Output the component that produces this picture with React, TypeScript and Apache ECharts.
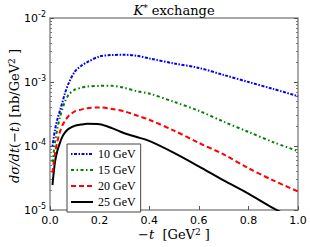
import React, { useEffect, useRef } from "react";
import * as echarts from "echarts";

const tValues = [0.01, 0.02, 0.03, 0.04, 0.05, 0.06, 0.075, 0.1, 0.125, 0.15, 0.2, 0.25, 0.3, 0.35, 0.4, 0.5, 0.6, 0.7, 0.8, 0.9, 1.0];
const gev10 = [1.0e-4, 1.78e-4, 2.63e-4, 3.55e-4, 4.8e-4, 6.6e-4, 9.5e-4, 1.45e-3, 1.78e-3, 2.04e-3, 2.51e-3, 2.64e-3, 2.66e-3, 2.57e-3, 2.34e-3, 1.95e-3, 1.66e-3, 1.29e-3, 1.0e-3, 7.8e-4, 6.0e-4];
const gev15 = [5.6e-5, 1.12e-4, 1.9e-4, 2.8e-4, 3.8e-4, 4.9e-4, 6.3e-4, 7.6e-4, 8.1e-4, 8.5e-4, 8.7e-4, 8.7e-4, 8.1e-4, 7.2e-4, 6.6e-4, 4.9e-4, 3.55e-4, 2.4e-4, 1.66e-4, 1.15e-4, 8.3e-5];
const gev20 = [3.8e-5, 7.6e-5, 1.2e-4, 1.66e-4, 2.1e-4, 2.45e-4, 2.95e-4, 3.47e-4, 3.7e-4, 3.9e-4, 4.0e-4, 3.8e-4, 3.47e-4, 3.0e-4, 2.57e-4, 1.74e-4, 1.12e-4, 7.4e-5, 4.5e-5, 2.9e-5, 1.95e-5];
const gev25 = [2.45e-5, 5.6e-5, 8.5e-5, 1.12e-4, 1.4e-4, 1.62e-4, 1.85e-4, 2.07e-4, 2.16e-4, 2.22e-4, 2.19e-4, 1.9e-4, 1.58e-4, 1.38e-4, 1.2e-4, 7.8e-5, 4.8e-5, 2.9e-5, 1.8e-5, 1.07e-5, 6.8e-6];
const seriesNames = ["10 GeV", "15 GeV", "20 GeV", "25 GeV"];
const xTickLabels = ["0.0", "0.2", "0.4", "0.6", "0.8", "1.0"];
const yMinorTicks = [2e-5, 3e-5, 4e-5, 5e-5, 6e-5, 7e-5, 8e-5, 9e-5, 2e-4, 3e-4, 4e-4, 5e-4, 6e-4, 7e-4, 8e-4, 9e-4, 2e-3, 3e-3, 4e-3, 5e-3, 6e-3, 7e-3, 8e-3, 9e-3];

const SERIF = "'DejaVu Serif', serif";
const SANS = "'DejaVu Sans', sans-serif";

export default function App() {
  const ref = useRef<HTMLDivElement>(null);
  useEffect(() => {
    if (!ref.current) return;
    const chart = echarts.init(ref.current, null, { renderer: "svg" });
    const all = [gev10, gev15, gev20, gev25];
    const colors = ["#0000ff", "#008000", "#ff0000", "#000000"];
    const dashes: any[] = [[1.5, 1.5, 3, 1.5], [3, 2.5, 1.5, 2.5], [5, 3], "solid"];
    const widths = [2, 2, 2, 2];
    const grid = { left: 50, right: 12, top: 18, bottom: 37 };
    const frame = "#8c8c8c";
    const yFmt = (v: number) => "10{sup|" + Math.round(Math.log10(v)) + "}";
    const baseY = {
      type: "log" as const,
      logBase: 10,
      min: 1e-5,
      max: 1e-2,
      splitLine: { show: false },
      axisLine: { show: false },
    };
    const supStyle = { fontFamily: SERIF, fontSize: 9, fill: "#000", verticalAlign: "top", padding: [0, 0, 5, 0] };
    const rich = {
      i: { fontFamily: SERIF, fontStyle: "italic", fontSize: 13, fill: "#000" },
      s: supStyle,
      n: { fontFamily: SERIF, fontSize: 13, fill: "#000" },
    };
    const option: any = {
      animation: false,
      grid: { ...grid, show: true, borderColor: frame, borderWidth: 1.5, backgroundColor: "transparent" },
      xAxis: [
        {
          type: "value",
          min: 0,
          max: 1,
          interval: 0.2,
          splitLine: { show: false },
          axisLine: { show: false },
          axisTick: { inside: true, length: 4, lineStyle: { color: "#555" } },
          axisLabel: {
            color: "#000",
            fontFamily: SANS,
            fontSize: 11,
            margin: 5,
            formatter: (v: number) => xTickLabels[Math.round(v / 0.2)] ?? "",
          },
        },
      ],
      yAxis: [
        {
          ...baseY,
          position: "left",
          axisTick: { inside: true, length: 4, lineStyle: { color: "#555" } },
          axisLabel: {
            formatter: yFmt,
            color: "#000",
            fontFamily: SANS,
            fontSize: 11,
            margin: 4,
            rich: {
              sup: { fontSize: 8, fontFamily: SANS, color: "#000", verticalAlign: "top", padding: [0, 0, 8, 0] },
            },
          },
        },
        {
          ...baseY,
          position: "left",
          axisTick: { inside: true, length: 2, customValues: yMinorTicks, lineStyle: { color: "#777" } },
          axisLabel: { show: false },
        },
        {
          ...baseY,
          position: "right",
          axisTick: { inside: true, length: 4, lineStyle: { color: "#555" } },
          axisLabel: { show: false },
        },
        {
          ...baseY,
          position: "right",
          axisTick: { inside: true, length: 2, customValues: yMinorTicks, lineStyle: { color: "#777" } },
          axisLabel: { show: false },
        },
      ],
      legend: {
        orient: "vertical",
        left: 67,
        top: 144,
        padding: [4, 5, 4, 3],
        itemGap: 4,
        itemWidth: 22,
        itemHeight: 10,
        itemStyle: { opacity: 0 },
        backgroundColor: "#fff",
        borderColor: "#444",
        borderWidth: 1,
        textStyle: { fontFamily: "'Liberation Serif', serif", fontSize: 12, color: "#000" },
        data: seriesNames,
      },
      series: all.map((vals, i) => ({
        name: seriesNames[i],
        type: "line",
        xAxisIndex: 0,
        yAxisIndex: 0,
        symbol: "none",
        smooth: 0.3,
        clip: true,
        z: 10 - i,
        color: colors[i],
        lineStyle: { color: colors[i], width: widths[i], type: dashes[i] },
        data: tValues.map((t, j) => [t, vals[j]]),
      })),
      graphic: [
        {
          type: "text",
          x: 174,
          y: 10,
          style: {
            text: "{i|K}{s|*}{n| exchange}",
            align: "center",
            verticalAlign: "middle",
            rich,
          },
        },
        {
          type: "text",
          x: 174,
          y: 234,
          style: {
            text: "{n|\u2212}{i|t}{n|  [GeV}{s|2}{n| ]}",
            align: "center",
            verticalAlign: "middle",
            rich,
          },
        },
        {
          type: "text",
          x: 14,
          y: 116,
          rotation: Math.PI / 2,
          style: {
            text: "{i|d\u03c3/dt}{n|(\u2212}{i|t}{n|) [nb/GeV}{s|2}{n| ]}",
            align: "center",
            verticalAlign: "middle",
            rich,
          },
        },
      ],
    };
    chart.setOption(option);
    return () => chart.dispose();
  }, []);
  return (
    <div
      ref={ref}
      style={{ position: "fixed", left: 0, top: 0, width: 310, height: 247, background: "#fff" }}
    />
  );
}
